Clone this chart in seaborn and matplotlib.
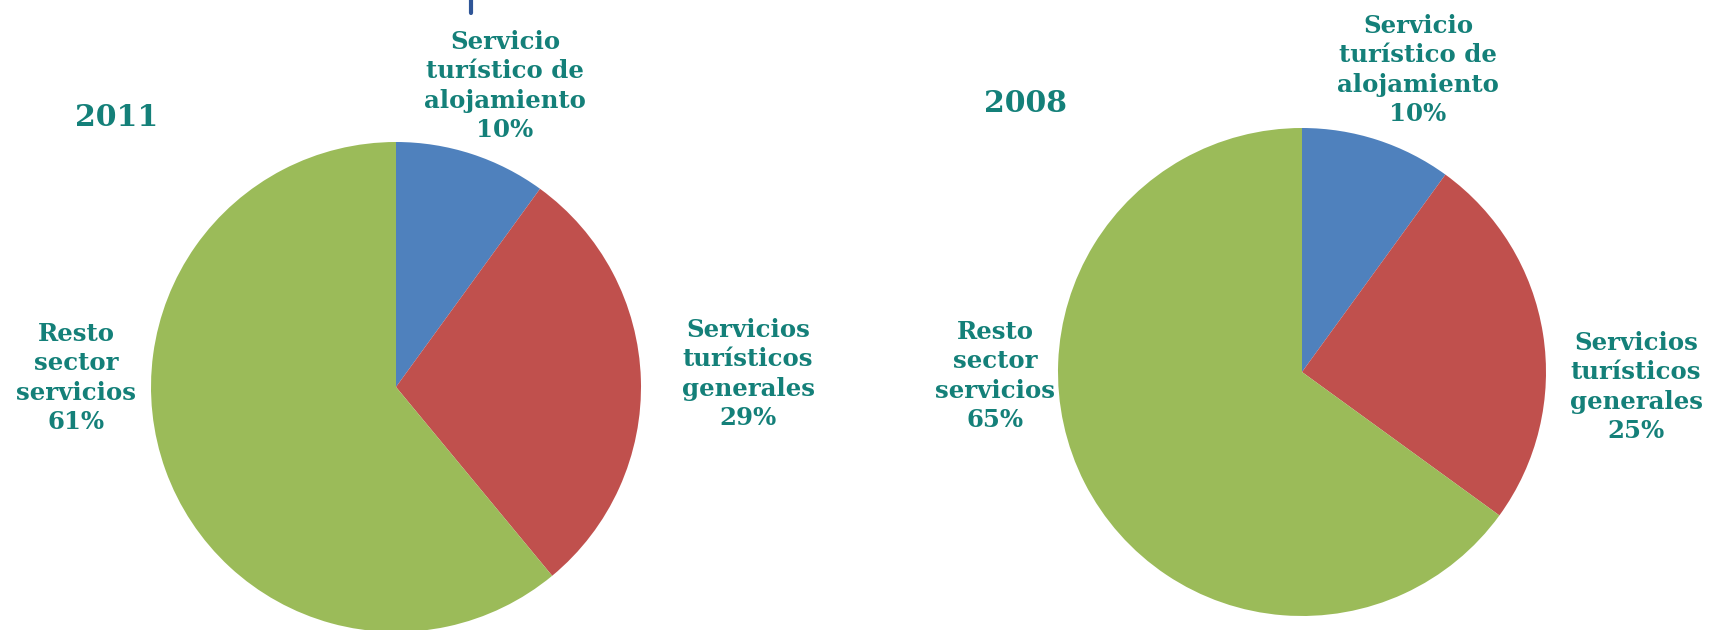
import matplotlib
matplotlib.use("Agg")
import matplotlib.pyplot as plt
import seaborn as sns
from matplotlib.lines import Line2D

sns.set_theme(style="white")
plt.rcParams['font.family'] = ['DejaVu Serif']

categories = ["Servicio\nturístico de\nalojamiento", "Servicios\nturísticos\ngenerales", "Resto\nsector\nservicios"]
values_2011 = [10, 29, 61]
values_2008 = [10, 25, 65]
titles = ["2011", "2008"]
colors = ["#4F81BD", "#C0504D", "#9BBB59"]
teal = "#148079"

W, H = 1710, 630
fig = plt.figure(figsize=(W / 100, H / 100), dpi=100)
fig.patch.set_facecolor("white")

def px_axes(cx, cy, r):
    return fig.add_axes([(cx - r) / W, (H - cy - r) / H, 2 * r / W, 2 * r / H])

def ftext(x, y, s, size=17.6, **kw):
    fig.text(x / W, 1 - y / H, s, ha="center", va="center", color=teal,
             fontsize=size, fontweight="bold", linespacing=1.28, **kw)

# Left pie 2011
ax1 = px_axes(396, 387, 245)
ax1.pie(values_2011, colors=colors, startangle=90, counterclock=False,
        radius=1, wedgeprops=dict(linewidth=0))
ax1.set_xlim(-1, 1); ax1.set_ylim(-1, 1); ax1.set_aspect("equal"); ax1.axis("off")

# Right pie 2008
ax2 = px_axes(1302, 372, 244)
ax2.pie(values_2008, colors=colors, startangle=90, counterclock=False,
        radius=1, wedgeprops=dict(linewidth=0))
ax2.set_xlim(-1, 1); ax2.set_ylim(-1, 1); ax2.set_aspect("equal"); ax2.axis("off")

# Titles
ftext(117, 118, titles[0], size=21.5)
ftext(1025, 104, titles[1], size=21.5)

# Labels 2011
ftext(505, 86, f"{categories[0]}\n{values_2011[0]}%")
ftext(748, 374, f"{categories[1]}\n{values_2011[1]}%")
ftext(76, 378, f"{categories[2]}\n{values_2011[2]}%")

# Labels 2008
ftext(1418, 70, f"{categories[0]}\n{values_2008[0]}%")
ftext(1636, 387, f"{categories[1]}\n{values_2008[1]}%")
ftext(995, 376, f"{categories[2]}\n{values_2008[2]}%")

# small decorative line at top
fig.add_artist(Line2D([471 / W, 471 / W], [1, 1 - 13 / H], color="#2F5597", linewidth=3,
                      transform=fig.transFigure))

fig.savefig("out.png", dpi=100, facecolor="white")
